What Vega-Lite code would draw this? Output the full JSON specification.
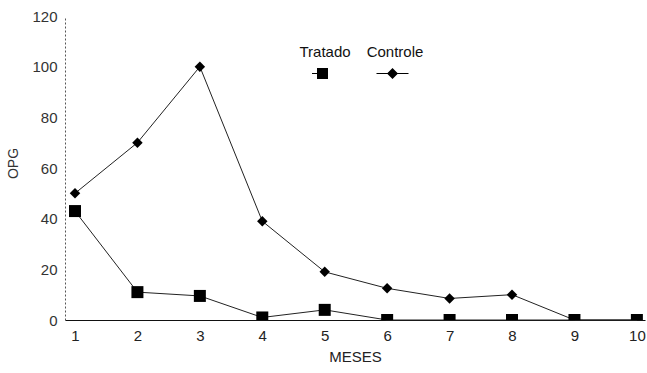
{
  "$schema": "https://vega.github.io/schema/vega-lite/v6.json",
  "width": 580,
  "height": 304,
  "autosize": {"type": "none"},
  "padding": {"left": 65, "top": 16, "right": 2, "bottom": 53},
  "background": "white",
  "config": {
    "view": {"stroke": null},
    "font": "Liberation Sans",
    "axis": {"grid": false, "titleFontWeight": "normal", "labelFont": "Liberation Sans", "titleFont": "Liberation Sans"},
    "legend": {"labelFont": "Liberation Sans"}
  },
  "data": {
    "values": [
      {"mes": 1, "opg": 43, "grupo": "Tratado"},
      {"mes": 2, "opg": 11, "grupo": "Tratado"},
      {"mes": 3, "opg": 9.5, "grupo": "Tratado"},
      {"mes": 4, "opg": 1, "grupo": "Tratado"},
      {"mes": 5, "opg": 4, "grupo": "Tratado"},
      {"mes": 6, "opg": 0, "grupo": "Tratado"},
      {"mes": 7, "opg": 0, "grupo": "Tratado"},
      {"mes": 8, "opg": 0, "grupo": "Tratado"},
      {"mes": 9, "opg": 0, "grupo": "Tratado"},
      {"mes": 10, "opg": 0, "grupo": "Tratado"},
      {"mes": 1, "opg": 50, "grupo": "Controle"},
      {"mes": 2, "opg": 70, "grupo": "Controle"},
      {"mes": 3, "opg": 100, "grupo": "Controle"},
      {"mes": 4, "opg": 39, "grupo": "Controle"},
      {"mes": 5, "opg": 19, "grupo": "Controle"},
      {"mes": 6, "opg": 12.5, "grupo": "Controle"},
      {"mes": 7, "opg": 8.5, "grupo": "Controle"},
      {"mes": 8, "opg": 10, "grupo": "Controle"},
      {"mes": 9, "opg": 0, "grupo": "Controle"},
      {"mes": 10, "opg": 0, "grupo": "Controle"}
    ]
  },
  "encoding": {
    "x": {
      "field": "mes", "type": "quantitative",
      "scale": {"domain": [0.84, 10.13], "nice": false, "zero": false},
      "axis": {
        "values": [1,2,3,4,5,6,7,8,9,10], "format": "d",
        "title": "MESES", "titleFontSize": 15, "titleColor": "#222", "titlePadding": 6,
        "labelFontSize": 15, "labelColor": "#222", "labelPadding": 8,
        "ticks": false, "domainColor": "#111", "domainWidth": 1.2, "labelFlush": false
      }
    },
    "y": {
      "field": "opg", "type": "quantitative",
      "scale": {"domain": [0, 120], "nice": false},
      "axis": {
        "values": [0,20,40,60,80,100,120],
        "title": "OPG", "titleFontSize": 14, "titleColor": "#333",
        "titleX": -52, "titleY": 147, "titleBaseline": "middle",
        "labelFontSize": 15, "labelColor": "#333", "labelPadding": 8,
        "ticks": false, "domainColor": "#555", "domainDash": [2, 2], "domainWidth": 1
      }
    }
  },
  "layer": [
    {
      "mark": {"type": "line", "color": "#222", "strokeWidth": 1},
      "encoding": {"detail": {"field": "grupo"}}
    },
    {
      "mark": {"type": "point", "filled": true, "color": "black", "opacity": 1, "clip": true},
      "encoding": {
        "shape": {
          "condition": {"test": "datum.grupo === 'Tratado'", "value": "square"},
          "value": "diamond"
        },
        "size": {
          "condition": {"test": "datum.grupo === 'Tratado'", "value": 144},
          "value": 110
        }
      }
    },
    {
      "mark": {"type": "point", "filled": true, "fill": "black", "stroke": "black", "strokeWidth": 1, "opacity": 0},
      "encoding": {
        "shape": {
          "field": "grupo", "type": "nominal",
          "scale": {
            "domain": ["Tratado", "Controle"],
            "range": ["M-1.1,3.3 H1.1 V5.5 H-1.1 Z M-2.1,4.3 H-1.1 V4.5 H-2.1 Z", "M0,3.3 L1.1,4.4 L0,5.5 L-1.1,4.4 Z M-3.2,4.3 H3.2 V4.5 H-3.2 Z"]
          },
          "legend": {
            "title": null,
            "orient": "none",
            "legendX": 250,
            "legendY": 28,
            "direction": "horizontal",
            "padding": 0,
            "symbolSize": 100,
            "symbolOpacity": 1,
            "symbolFillColor": "black",
            "symbolStrokeColor": "black",
            "symbolStrokeWidth": 1,
            "labelFontSize": 15,
            "labelFontWeight": "normal",
            "labelColor": "#111",
            "labelAlign": "center",
            "labelOffset": -5,
            "columnPadding": 15
          }
        }
      }
    }
  ]
}
